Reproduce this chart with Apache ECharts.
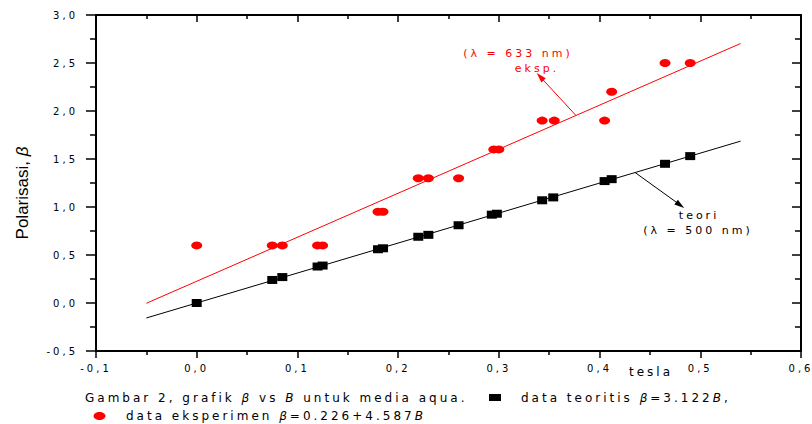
<!DOCTYPE html>
<html><head><meta charset="utf-8">
<script src="https://cdn.jsdelivr.net/npm/echarts@6/dist/echarts.min.js"></script>
<style>
html,body{margin:0;padding:0;background:#fff}
#c{width:812px;height:424px}
#c svg text{letter-spacing:3px}
#c svg text[style*="Liberation"]{letter-spacing:0}
</style>
</head><body><div id="c"></div>
<script>
// ---- data ----
const teoriB    = [0, 0.075, 0.085, 0.12, 0.125, 0.18, 0.185, 0.22, 0.23, 0.26, 0.293, 0.298, 0.343, 0.354, 0.405, 0.412, 0.465, 0.49];
const teoriBeta = [0, 0.24, 0.27, 0.38, 0.39, 0.56, 0.57, 0.69, 0.71, 0.81, 0.92, 0.93, 1.07, 1.10, 1.27, 1.29, 1.45, 1.53];
const eksB      = [0, 0.075, 0.085, 0.12, 0.125, 0.18, 0.185, 0.22, 0.23, 0.26, 0.295, 0.3, 0.343, 0.355, 0.405, 0.412, 0.465, 0.49];
const eksBeta   = [0.6, 0.6, 0.6, 0.6, 0.6, 0.95, 0.95, 1.3, 1.3, 1.3, 1.6, 1.6, 1.9, 1.9, 1.9, 2.2, 2.5, 2.5];
const fitB      = [-0.05, 0.54];
const fitEks    = [-0.003, 2.703];
const fitTeori  = [-0.156, 1.686];
const arrowEks   = [[0.3764, 1.955], [0.341, 2.357]];
const arrowTeori = [[0.4353, 1.359], [0.480, 1.021]];
const xRange = [-0.1, 0.6, 0.1];
const yRange = [-0.5, 3.0, 0.5];

const SP = 3;
const FONT = '"DejaVu Sans"';
const fmt = v => v.toFixed(1).replace('.', ',');
const zip = (a, b) => a.map((v, i) => [v, b[i]]);

function seq(parts, x, y, size, color) {
  const c = document.createElement('canvas').getContext('2d');
  const out = [];
  let cx = x;
  for (const p of parts) {
    const t = typeof p === 'string' ? p : p.t;
    const it = typeof p !== 'string';
    const font = (it ? 'italic ' : '') + size + 'px ' + FONT;
    c.font = font;
    const w = c.measureText(t).width + t.length * SP;
    out.push({type: 'text', x: cx, y: y, silent: true,
      style: {text: t, font: font, fill: color, textAlign: 'left', textVerticalAlign: 'middle'}});
    cx += w;
  }
  return out;
}

const capSize = 12;
const graphics = [].concat(
  seq(['Gambar 2, grafik ', {t: 'β'}, ' vs ', {t: 'B'}, ' untuk media aqua.'], 85, 398, capSize, '#000'),
  [{type: 'rect', shape: {x: 489, y: 394, width: 12, height: 7}, style: {fill: '#000'}, silent: true}],
  seq(['data teoritis ', {t: 'β'}, '=3.122', {t: 'B'}, ','], 521, 398, capSize, '#000'),
  [{type: 'ellipse', shape: {cx: 99.5, cy: 416, rx: 6, ry: 4}, style: {fill: '#f00'}, silent: true}],
  seq(['data eksperimen ', {t: 'β'}, '=0.226+4.587', {t: 'B'}], 126, 416, capSize, '#000'),
  [
    {type: 'text', x: 651, y: 372, silent: true, style: {text: 'tesla', font: '12px ' + FONT, fill: '#000', textAlign: 'center', textVerticalAlign: 'middle'}},
    {type: 'text', x: 518, y: 53, silent: true, style: {text: '(λ = 633 nm)', font: '11px ' + FONT, fill: '#f00', textAlign: 'center', textVerticalAlign: 'middle'}},
    {type: 'text', x: 537, y: 68, silent: true, style: {text: 'eksp.', font: '11px ' + FONT, fill: '#f00', textAlign: 'center', textVerticalAlign: 'middle'}},
    {type: 'text', x: 699, y: 215, silent: true, style: {text: 'teori', font: '11px ' + FONT, fill: '#000', textAlign: 'center', textVerticalAlign: 'middle'}},
    {type: 'text', x: 698, y: 230, silent: true, style: {text: '(λ = 500 nm)', font: '11px ' + FONT, fill: '#000', textAlign: 'center', textVerticalAlign: 'middle'}},
    {type: 'text', x: 22, y: 193, rotation: Math.PI / 2, silent: true,
     style: {text: '{a|Polarisasi, }{b|β}', fill: '#000', textAlign: 'center', textVerticalAlign: 'middle',
       rich: {a: {fontFamily: 'Liberation Sans', fontSize: 17, fill: '#000'},
              b: {fontFamily: 'Liberation Sans', fontSize: 17, fontStyle: 'italic', fill: '#000'}}}}
  ]
);

const axisLine = {show: true, onZero: false, lineStyle: {color: '#000', width: 2}};
const tickStyle = {color: '#000', width: 1.5};

const chart = echarts.init(document.getElementById('c'), null, {renderer: 'svg'});
chart.setOption({
  animation: false,
  backgroundColor: '#fff',
  grid: {left: 96, right: 11, top: 15, bottom: 73},
  xAxis: [
    {type: 'value', position: 'bottom', min: xRange[0], max: xRange[1], interval: xRange[2],
     axisLine: axisLine, splitLine: {show: false},
     axisTick: {show: true, inside: false, length: 7, lineStyle: tickStyle},
     minorTick: {show: true, splitNumber: 2, length: 4, lineStyle: tickStyle},
     axisLabel: {formatter: fmt, margin: 12, color: '#000', fontSize: 10, fontFamily: FONT}},
    {type: 'value', position: 'top', min: xRange[0], max: xRange[1], interval: xRange[2],
     axisLine: axisLine, splitLine: {show: false},
     axisTick: {show: true, inside: true, length: 7, lineStyle: tickStyle},
     minorTick: {show: true, splitNumber: 2, length: 4, lineStyle: tickStyle},
     axisLabel: {show: false}}
  ],
  yAxis: [
    {type: 'value', position: 'left', min: yRange[0], max: yRange[1], interval: yRange[2],
     axisLine: axisLine, splitLine: {show: false},
     axisTick: {show: true, inside: false, length: 10, lineStyle: tickStyle},
     minorTick: {show: true, splitNumber: 2, length: 6, lineStyle: tickStyle},
     axisLabel: {formatter: fmt, margin: 18, color: '#000', fontSize: 10, fontFamily: FONT}},
    {type: 'value', position: 'right', min: yRange[0], max: yRange[1], interval: yRange[2],
     axisLine: axisLine, splitLine: {show: false},
     axisTick: {show: true, inside: true, length: 9, lineStyle: tickStyle},
     minorTick: {show: true, splitNumber: 2, length: 6, lineStyle: tickStyle},
     axisLabel: {show: false}}
  ],
  series: [
    {type: 'line', data: zip(fitB, fitEks), symbol: 'none', lineStyle: {color: '#f00', width: 1}, z: 1,
     markLine: {silent: true, symbol: ['none', 'triangle'], symbolSize: [6, 10], label: {show: false},
       lineStyle: {color: '#f00', width: 1, type: 'solid'},
       data: [[{coord: arrowEks[0]}, {coord: arrowEks[1]}]]}},
    {type: 'line', data: zip(fitB, fitTeori), symbol: 'none', lineStyle: {color: '#000', width: 1}, z: 1,
     markLine: {silent: true, symbol: ['none', 'triangle'], symbolSize: [6, 10], label: {show: false},
       lineStyle: {color: '#000', width: 1, type: 'solid'},
       data: [[{coord: arrowTeori[0]}, {coord: arrowTeori[1]}]]}},
    {type: 'scatter', data: zip(eksB, eksBeta), symbol: 'circle', symbolSize: [11, 8],
     itemStyle: {color: '#f00', opacity: 1}, z: 3},
    {type: 'scatter', data: zip(teoriB, teoriBeta), symbol: 'rect', symbolSize: [10, 8],
     itemStyle: {color: '#000', opacity: 1}, z: 3}
  ],
  graphic: graphics
});
</script>
</body></html>
